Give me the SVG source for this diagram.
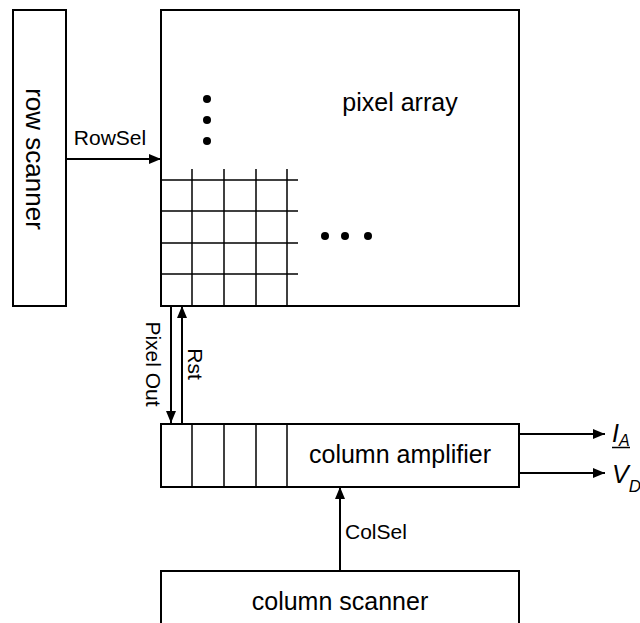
<svg xmlns="http://www.w3.org/2000/svg" width="640" height="623" viewBox="0 0 640 623">
<defs>
<style>
.box{fill:#fff;stroke:#000;stroke-width:2}
.grid{stroke:#000;stroke-width:1.5;fill:none}
.wire{stroke:#000;stroke-width:2;fill:none}
.main{font-family:"Liberation Sans",Arial,sans-serif;font-size:25px;fill:#000}
.lbl{font-family:"Liberation Sans",Arial,sans-serif;font-size:21px;fill:#000}
.sym{font-family:"Liberation Sans",Arial,sans-serif;font-style:italic;fill:#000}
</style>
<marker id="ah" viewBox="0 0 12 10" refX="12" refY="5" markerWidth="12" markerHeight="10" markerUnits="userSpaceOnUse" orient="auto">
<path d="M0,0 L12,5 L0,10 Z" fill="#000"/>
</marker>
</defs>
<rect width="640" height="623" fill="#fff"/>
<g id="row-scanner">
<rect class="box" x="13" y="10" width="53" height="296"/>
<text class="main" transform="translate(26,159) rotate(90)" text-anchor="middle" style="font-size:26px">row scanner</text>
</g>
<g id="pixel-array">
<rect class="box" x="161" y="10" width="358" height="296"/>
<text class="main" x="400" y="111" text-anchor="middle">pixel array</text>
<g class="grid">
<line x1="161" y1="180" x2="298" y2="180"/>
<line x1="161" y1="211" x2="298" y2="211"/>
<line x1="161" y1="243" x2="298" y2="243"/>
<line x1="161" y1="274" x2="298" y2="274"/>
<line x1="192" y1="169" x2="192" y2="306"/>
<line x1="224" y1="169" x2="224" y2="306"/>
<line x1="256" y1="169" x2="256" y2="306"/>
<line x1="287" y1="169" x2="287" y2="306"/>
</g>
<circle cx="207" cy="99" r="4"/>
<circle cx="207" cy="120" r="4"/>
<circle cx="207" cy="141" r="4"/>
<circle cx="325" cy="236" r="4"/>
<circle cx="345" cy="236" r="4"/>
<circle cx="368" cy="236" r="4"/>
</g>
<g id="column-amplifier">
<rect class="box" x="161" y="424" width="358" height="63"/>
<g class="grid">
<line x1="192" y1="424" x2="192" y2="487"/>
<line x1="224" y1="424" x2="224" y2="487"/>
<line x1="256" y1="424" x2="256" y2="487"/>
<line x1="287" y1="424" x2="287" y2="487"/>
</g>
<text class="main" x="400" y="463" text-anchor="middle">column amplifier</text>
</g>
<g id="column-scanner">
<rect class="box" x="161" y="571" width="358" height="70"/>
<text class="main" x="340" y="610" text-anchor="middle">column scanner</text>
</g>
<g id="connectors">
<line class="wire" x1="66" y1="159" x2="161" y2="159" marker-end="url(#ah)"/>
<line class="wire" x1="171" y1="306" x2="171" y2="423" marker-end="url(#ah)"/>
<line class="wire" x1="182" y1="423" x2="182" y2="306" marker-end="url(#ah)"/>
<line class="wire" x1="340" y1="571" x2="340" y2="487" marker-end="url(#ah)"/>
<line class="wire" x1="519" y1="434" x2="605" y2="434" marker-end="url(#ah)"/>
<line class="wire" x1="519" y1="473" x2="605" y2="473" marker-end="url(#ah)"/>
<text class="lbl" x="110" y="145" text-anchor="middle">RowSel</text>
<text class="lbl" transform="translate(146,364) rotate(90)" text-anchor="middle">Pixel Out</text>
<text class="lbl" transform="translate(188,364) rotate(90)" text-anchor="middle">Rst</text>
<text class="lbl" x="345" y="539">ColSel</text>
<text class="sym" x="612" y="442" style="font-size:25px">I<tspan dy="4" style="font-size:16px">A</tspan></text>
<line x1="612" y1="447.5" x2="630" y2="447.5" stroke="#000" stroke-width="1.5"/>
<text class="sym" x="612" y="483" style="font-size:25px">V<tspan dy="9" style="font-size:17px">D</tspan></text>
</g>
</svg>
